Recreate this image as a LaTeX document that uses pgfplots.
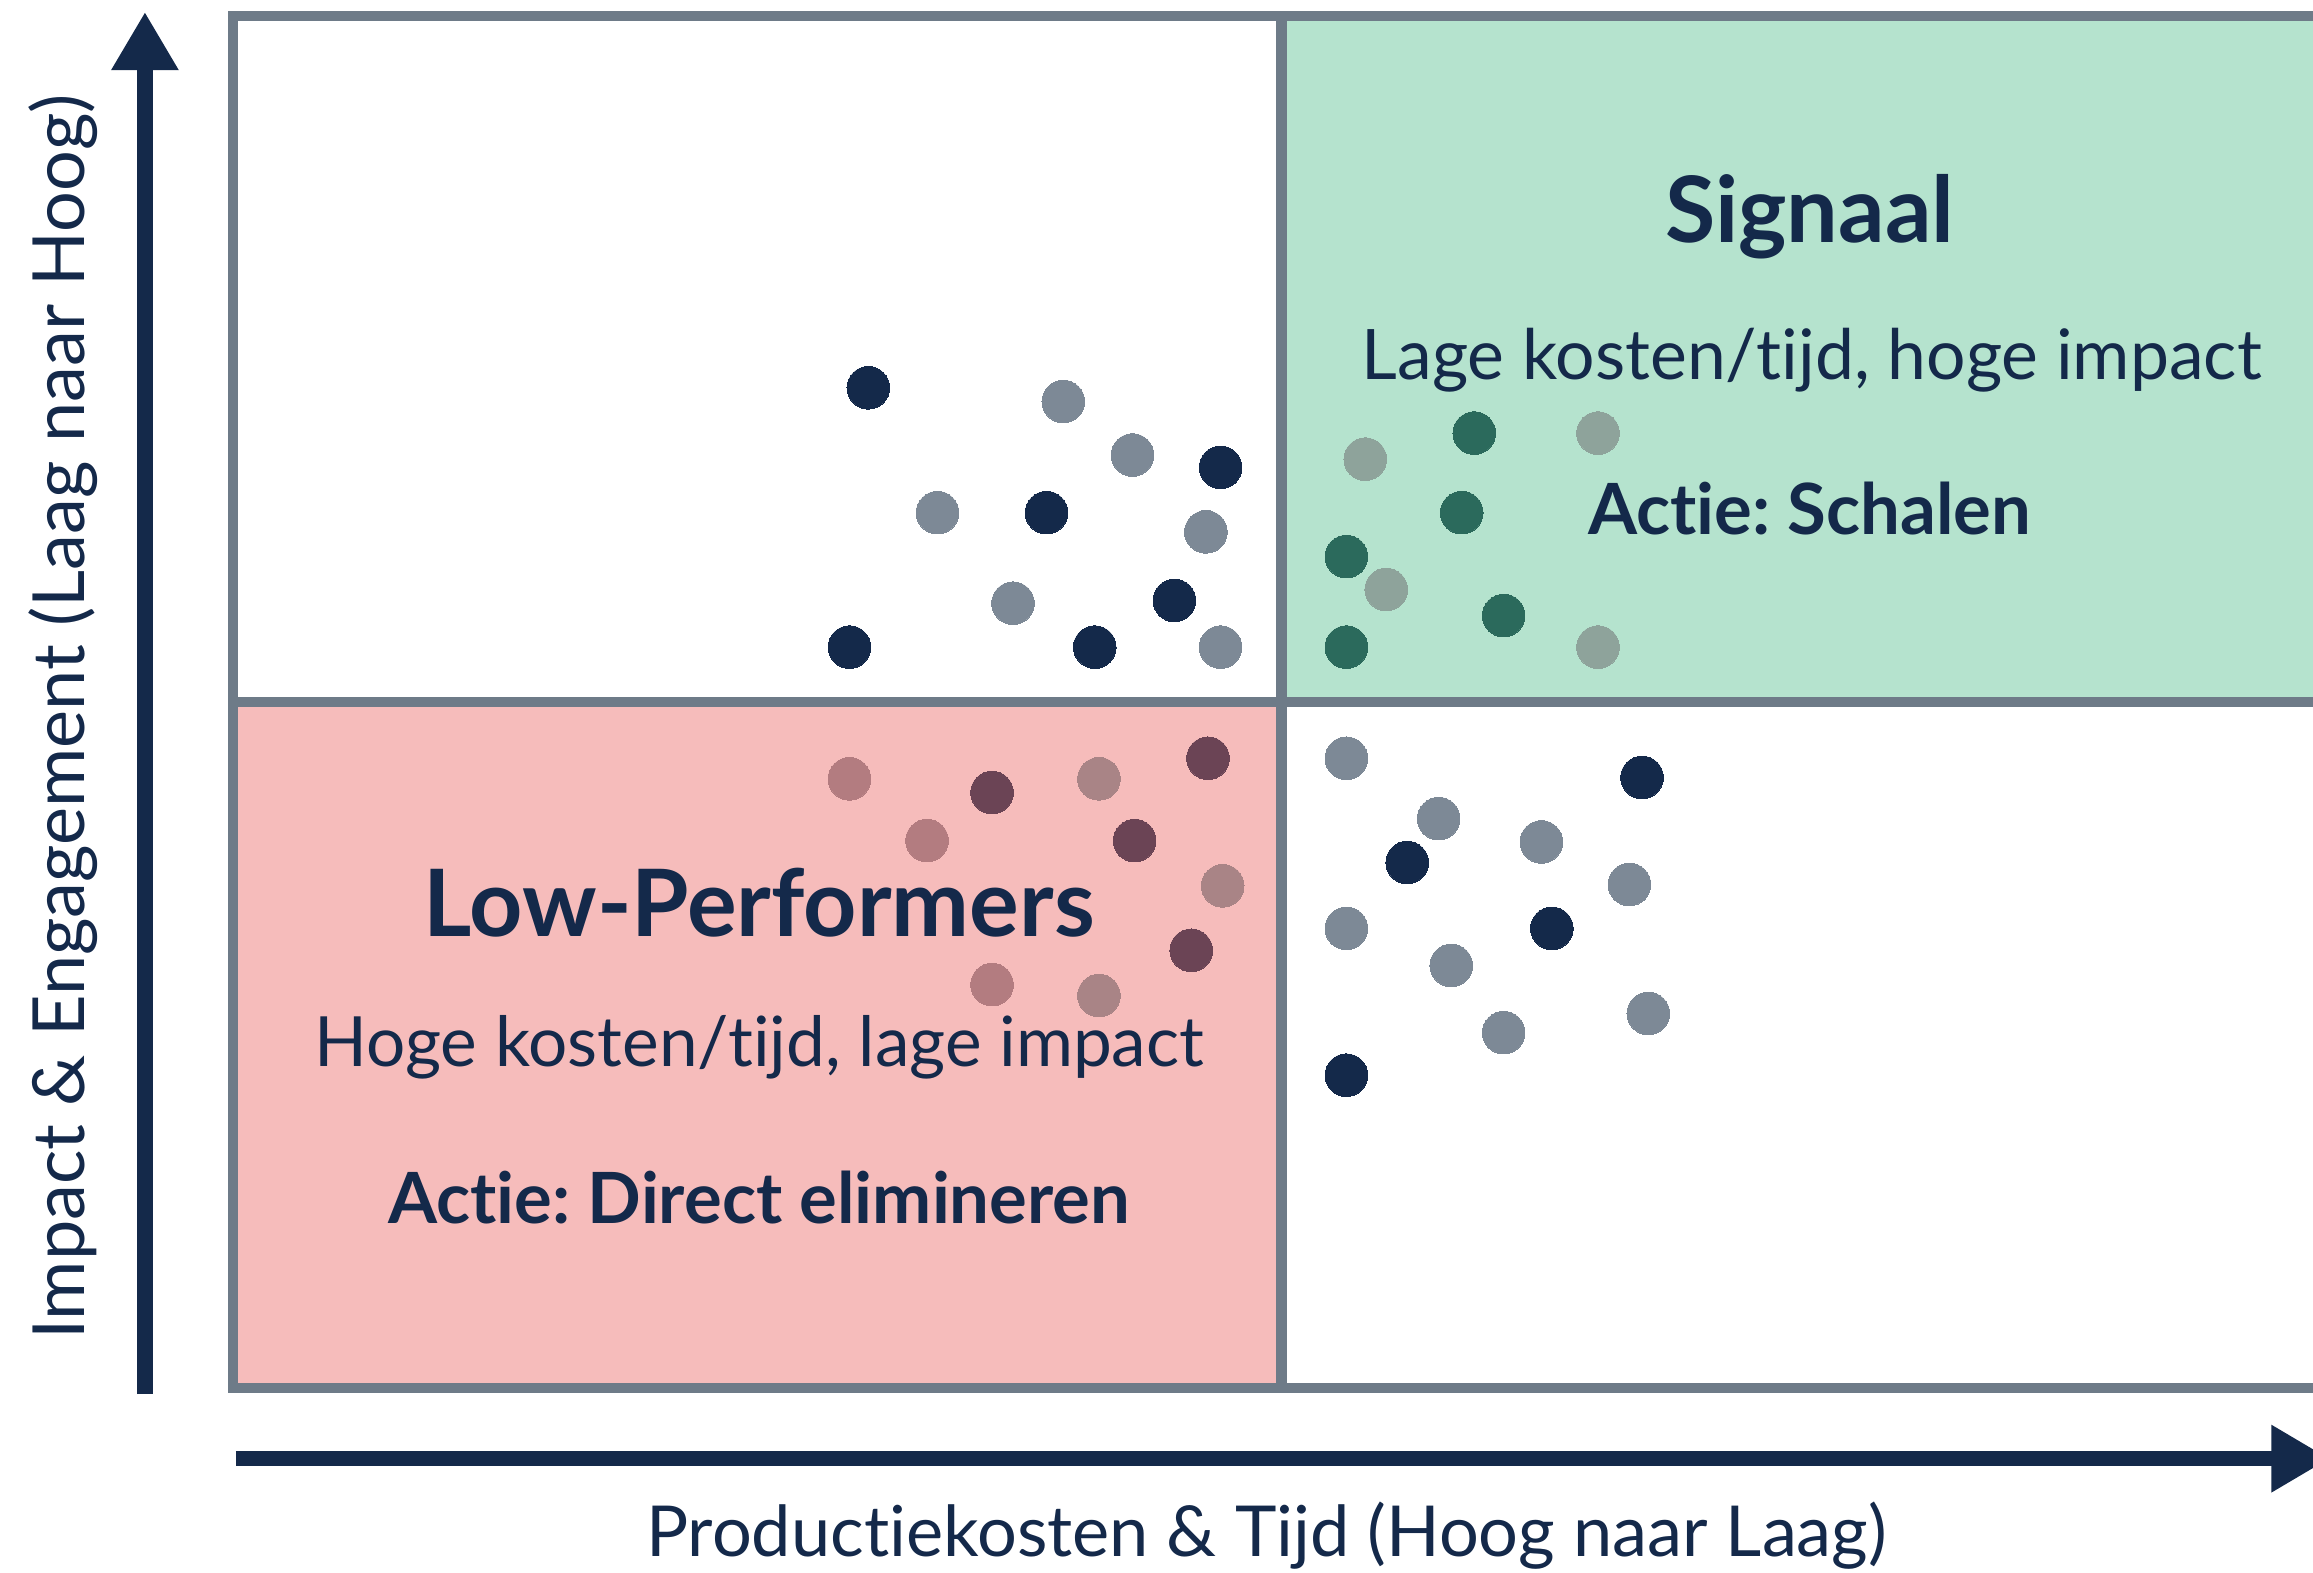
\documentclass[border=0pt]{standalone}
\usepackage{pgfplots}
\pgfplotsset{compat=1.18}
\usepackage{fontspec}
\setmainfont{Lato}[Ligatures={NoCommon}]
\frenchspacing
\usetikzlibrary{arrows.meta}
\definecolor{navy}{HTML}{14294A}
\definecolor{dotgray}{HTML}{7D8996}
\definecolor{frame}{HTML}{6E7B88}
\definecolor{qgreen}{HTML}{B5E3CE}
\definecolor{qpink}{HTML}{F6BCBB}
\definecolor{teal}{HTML}{2B6A5C}
\definecolor{greengray}{HTML}{8EA39B}
\definecolor{maroon}{HTML}{6B4455}
\definecolor{pinklight}{HTML}{B37C80}
\definecolor{pinkgray}{HTML}{A98486}
\begin{document}
\begin{tikzpicture}
\begin{axis}[
  at={(0,0)}, anchor=south west,
  scale only axis, width=624pt, height=411.6pt,
  xmin=0, xmax=99.2, ymin=0, ymax=100,
  hide axis, clip=false,
  every axis plot/.append style={only marks, mark=*, mark size=6.4pt, mark options={line width=0pt}},
]
% quadrant fills
\fill[qgreen] (axis cs:50,50) rectangle (axis cs:99.2,100);
\fill[qpink] (axis cs:0,0) rectangle (axis cs:50,50);
% frame and dividers
\draw[frame, line width=3.2pt] (axis cs:99.5,100) -- (axis cs:0,100) -- (axis cs:0,0) -- (axis cs:99.5,0);
\draw[frame, line width=3.2pt] (axis cs:50,0) -- (axis cs:50,100);
\draw[frame, line width=3.2pt] (axis cs:0,50) -- (axis cs:99.5,50);
% axis arrows
\draw[navy, line width=4.6pt, -{Triangle[width=19pt, length=17.5pt]}] (axis cs:-4.2,-0.44) -- (axis cs:-4.2,100.3);
\draw[navy, line width=4.6pt, -{Triangle[width=19pt, length=17.5pt]}] (axis cs:0.14,-5.15) -- (axis cs:100.0,-5.15);
% points
\addplot[color=navy] coordinates {(30.3,72.9) (47.1,67.1) (38.8,63.8) (44.9,57.4) (29.4,54.0) (41.1,54.0)};
\addplot[color=dotgray] coordinates {(39.6,71.9) (42.9,68.0) (33.6,63.8) (46.4,62.4) (37.2,57.2) (47.1,54.0)};
\addplot[color=navy] coordinates {(67.2,44.5) (56.0,38.3) (62.9,33.5) (53.1,22.8)};
\addplot[color=dotgray] coordinates {(53.1,45.9) (57.5,41.5) (62.4,39.8) (66.6,36.7) (53.1,33.5) (58.1,30.8) (67.5,27.3) (60.6,25.9)};
\addplot[color=teal] coordinates {(59.2,69.6) (58.6,63.8) (53.1,60.6) (60.6,56.3) (53.1,54.0)};
\addplot[color=greengray] coordinates {(54.0,67.7) (65.1,69.6) (55.0,58.2) (65.1,54.0)};
\addplot[color=maroon] coordinates {(36.2,43.4) (46.5,45.9) (43.0,39.9) (45.7,31.9)};
\addplot[color=pinklight] coordinates {(29.4,44.4) (33.1,39.9) (36.2,29.4)};
\addplot[color=pinkgray] coordinates {(41.3,44.4) (47.2,36.6) (41.3,28.6)};
% quadrant texts
\node[navy, anchor=base, font=\bfseries\fontsize{27.5pt}{31pt}\selectfont] at (axis cs:75.2,83.5) {Signaal};
\node[navy, anchor=base, font=\fontsize{20.9pt}{25pt}\selectfont] at (axis cs:75.3,73.5) {Lage kosten/tijd, hoge impact};
\node[navy, anchor=base, font=\bfseries\fontsize{21.2pt}{25pt}\selectfont] at (axis cs:75.2,62.2) {Actie: Schalen};
\node[navy, anchor=base, font=\bfseries\fontsize{27.9pt}{31pt}\selectfont] at (axis cs:25.1,32.9) {Low-Performers};
\node[navy, anchor=base, font=\fontsize{20.8pt}{25pt}\selectfont] at (axis cs:25.1,23.4) {Hoge kosten/tijd, lage impact};
\node[navy, anchor=base, font=\bfseries\fontsize{21.2pt}{25pt}\selectfont] at (axis cs:25.1,12.0) {Actie: Direct elimineren};
% axis labels
\node[navy, anchor=base, font=\fontsize{21.1pt}{25pt}\selectfont] at (axis cs:49.3,-12.3) {Productiekosten \& Tijd (Hoog naar Laag)};
\node[navy, anchor=base, rotate=90, font=\fontsize{21.6pt}{25pt}\selectfont] at (axis cs:-7.1,48.9) {Impact \& Engagement (Laag naar Hoog)};
\end{axis}
\pgfresetboundingbox
\path[use as bounding box] (-69.9pt,-55.2pt) rectangle (624pt,416.4pt);
\end{tikzpicture}
\end{document}
